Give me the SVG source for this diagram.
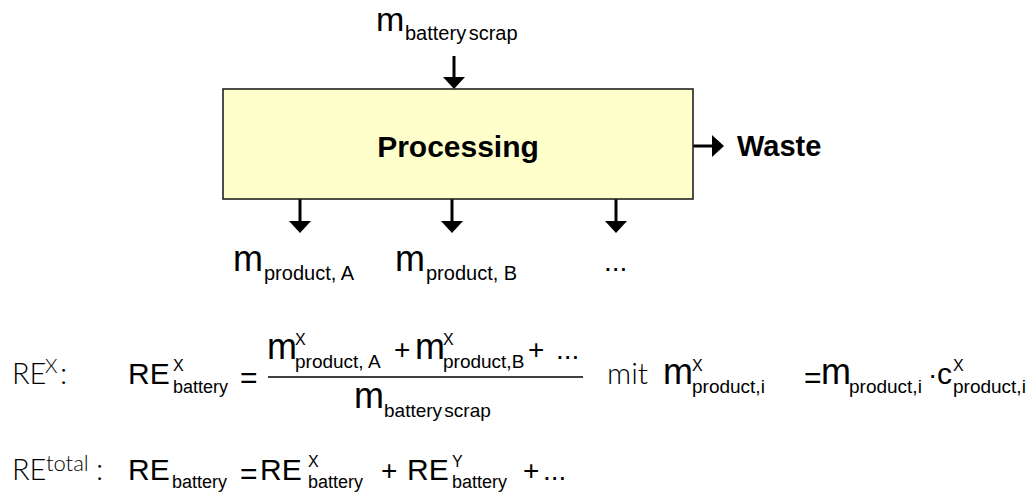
<svg xmlns="http://www.w3.org/2000/svg" width="1033" height="497" viewBox="0 0 1033 497">
<style>
.s{font-family:"Liberation Sans",Arial,sans-serif;fill:#000}
.b{font-family:"Liberation Sans",Arial,sans-serif;font-weight:bold;fill:#000}
.t{font-family:Lato,"Liberation Sans",sans-serif;font-weight:300;fill:#000}
.m{font-size:36px}
.big{font-size:30px}
.sub{font-size:19px}
.sup{font-size:16px}
.conn{stroke:#000;stroke-width:3;fill:none;marker-end:url(#ah)}
</style>
<defs>
<marker id="ah" markerUnits="userSpaceOnUse" markerWidth="12" markerHeight="22" viewBox="0 0 12 22" refX="8" refY="11" orient="auto">
<path d="M0,0 L12,11 L0,22 Z" fill="#000"/>
</marker>
</defs>

<g id="connectors">
<line class="conn" x1="454" y1="56" x2="454" y2="85"/>
<line class="conn" x1="693" y1="146" x2="720" y2="146"/>
<line class="conn" x1="300" y1="199" x2="300" y2="229"/>
<line class="conn" x1="452" y1="199" x2="452" y2="229"/>
<line class="conn" x1="616" y1="199" x2="616" y2="229"/>
</g>

<g id="processing">
<rect x="223" y="89" width="470" height="110" fill="#FFFFCC" stroke="#222" stroke-width="1.6"/>
<text class="b" x="458" y="157" font-size="30" text-anchor="middle">Processing</text>
</g>

<g id="input-scrap">
<text class="s" x="376" y="31" font-size="34">m</text>
<text class="s" x="405" y="40" font-size="20" word-spacing="-3">battery scrap</text>
</g>

<g id="waste">
<text class="b" x="737" y="156" font-size="29">Waste</text>
</g>

<g id="product-a">
<text class="s m" x="233" y="271">m</text>
<text class="s" x="264" y="280" font-size="20">product, A</text>
</g>
<g id="product-b">
<text class="s m" x="395" y="271">m</text>
<text class="s" x="426" y="280" font-size="20">product, B</text>
</g>
<g id="product-more">
<text class="s" x="604" y="271" font-size="28">...</text>
</g>

<g id="eq-rex">
<text class="t" x="12" y="384" font-size="29">RE</text>
<text class="t" x="45" y="373" font-size="20">X</text>
<text class="t big" x="60" y="384">:</text>

<text class="s big" x="128" y="384">RE</text>
<text class="s sup" x="173" y="371">X</text>
<text class="s" x="173" y="393" font-size="18">battery</text>
<text class="s big" x="240" y="388">=</text>

<line x1="268" y1="377" x2="583" y2="377" stroke="#000" stroke-width="1.5"/>

<text class="s m" x="267" y="359">m</text>
<text class="s sup" x="295" y="345">X</text>
<text class="s sub" x="295" y="368">product, A</text>
<text class="s" x="394" y="359" font-size="28">+</text>
<text class="s m" x="415" y="359">m</text>
<text class="s sup" x="443" y="345">X</text>
<text class="s sub" x="443" y="368">product,B</text>
<text class="s" x="528" y="359" font-size="28">+</text>
<text class="s" x="556" y="359" font-size="28">...</text>

<text class="s m" x="354" y="408">m</text>
<text class="s sub" x="384" y="417" word-spacing="-3">battery scrap</text>

<text class="t big" x="607" y="384">mit</text>
<text class="s m" x="663" y="384">m</text>
<text class="s sup" x="692" y="371">X</text>
<text class="s sub" x="692" y="393">product,i</text>
<text class="s big" x="804" y="388">=</text>
<text class="s m" x="821" y="384">m</text>
<text class="s sub" x="849" y="393">product,i</text>
<text class="s" x="928" y="384" font-size="28">·</text>
<text class="s big" x="937" y="384">c</text>
<text class="s sup" x="953" y="371">X</text>
<text class="s sub" x="953" y="393">product,i</text>
</g>

<g id="eq-retotal">
<text class="t" x="12" y="480" font-size="29">RE</text>
<text class="t" x="46" y="471" font-size="22">total</text>
<text class="t big" x="96" y="480">:</text>

<text class="s big" x="128" y="480">RE</text>
<text class="s" x="172" y="488" font-size="18">battery</text>
<text class="s big" x="240" y="484">=</text>
<text class="s big" x="260" y="480">RE</text>
<text class="s sup" x="308" y="467">X</text>
<text class="s" x="308" y="488" font-size="18">battery</text>
<text class="s" x="381" y="480" font-size="28">+</text>
<text class="s big" x="407" y="480">RE</text>
<text class="s sup" x="452" y="467">Y</text>
<text class="s" x="452" y="488" font-size="18">battery</text>
<text class="s" x="523" y="480" font-size="28">+</text>
<text class="s" x="543" y="480" font-size="28">...</text>
</g>
</svg>
